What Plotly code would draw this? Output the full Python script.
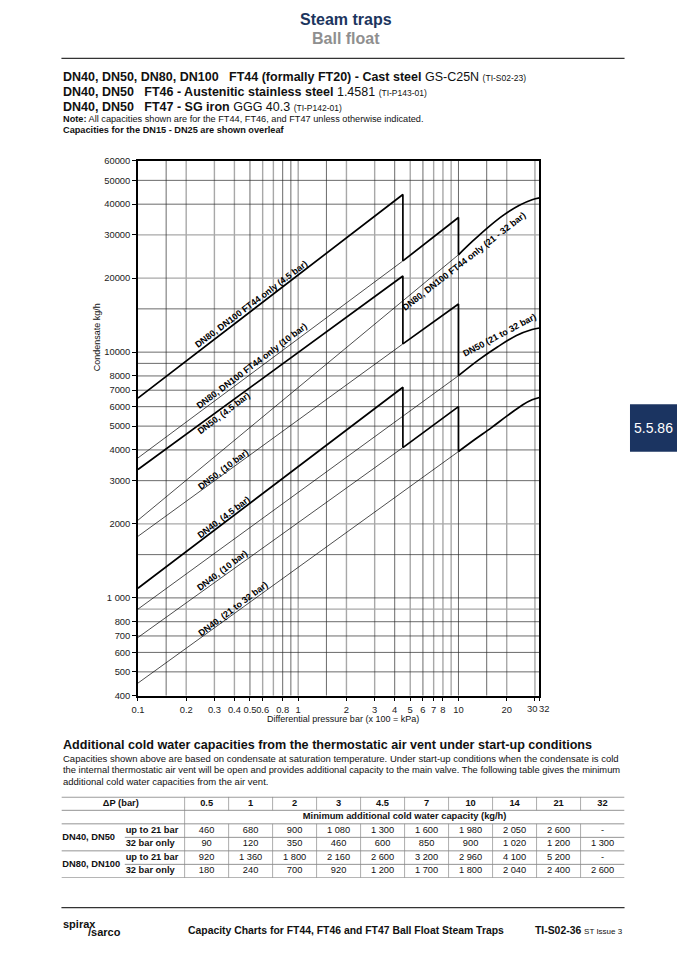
import numpy as np
import plotly.graph_objects as go

W, H = 677, 958

# ---- capacity chart (x = differential pressure bar, y = condensate kg/h) ----
# every orifice: thin extension line up to where it takes over, then the thick capacity section
dn80_45_x = [0.1, 4.5, 4.5]
dn80_45_y = [6500, 43800, 23500]
dn80_10_ext_x = [0.1, 4.5]
dn80_10_ext_y = [3710, 23500]
dn80_10_x = [4.5, 10, 10]
dn80_10_y = [23500, 35300, 24900]
dn80_32_ext_x = [0.1, 10]
dn80_32_ext_y = [2070, 24900]
dn80_32_x = [10, 12.2, 15.3, 19.1, 24, 28.8, 32]
dn80_32_y = [24900, 28200, 32200, 36100, 39600, 41700, 42400]

dn50_45_x = [0.1, 4.5, 4.5]
dn50_45_y = [3330, 20400, 10800]
dn50_10_ext_x = [0.1, 4.5]
dn50_10_ext_y = [1780, 10800]
dn50_10_x = [4.5, 10, 10]
dn50_10_y = [10800, 15700, 8020]
dn50_32_ext_x = [0.1, 10]
dn50_32_ext_y = [900, 8020]
dn50_32_x = [10, 13.3, 17.5, 23, 28.8, 32]
dn50_32_y = [8020, 9280, 10490, 11690, 12360, 12540]

dn40_45_x = [0.1, 4.5, 4.5]
dn40_45_y = [1095, 7200, 4090]
dn40_10_ext_x = [0.1, 4.5]
dn40_10_ext_y = [690, 4090]
dn40_10_x = [4.5, 10, 10]
dn40_10_y = [4090, 6000, 3940]
dn40_32_ext_x = [0.1, 10]
dn40_32_ext_y = [450, 3940]
dn40_32_x = [10, 12.7, 16, 20, 25.2, 28.8, 32]
dn40_32_y = [3940, 4420, 4920, 5490, 6110, 6400, 6540]

x_ticks = [0.1, 0.2, 0.3, 0.4, 0.5, 0.6, 0.8, 1, 2, 3, 4, 5, 6, 7, 8, 10, 20, 30, 32]
y_ticks = [400, 500, 600, 700, 800, 1000, 2000, 3000, 4000, 5000, 6000, 7000, 8000,
           10000, 20000, 30000, 40000, 50000, 60000]
y_ticktext = ["1 000" if v == 1000 else str(v) for v in y_ticks]
# 30 and 32 sit almost on top of each other: they get their own labels, pushed apart
x_ticktext = [str(v) if v < 30 else "" for v in x_ticks]

x_grid_grey = [0.2, 0.3, 0.4, 0.6, 0.7, 1, 2, 3, 5, 7, 8, 9, 20, 30]
x_grid_dark = [0.15, 0.5, 0.8, 0.9, 1.5, 4, 6, 10, 15]
y_grid_grey = [900, 2000, 20000, 30000]
y_grid_dark = [500, 600, 700, 800, 1000, 1500, 3000, 4000, 5000, 6000, 7000, 8000, 9000,
               10000, 15000, 40000, 50000]

# ---- cold water table ----
dp_cols = ["0.5", "1", "2", "3", "4.5", "7", "10", "14", "21", "32"]
dn40_50_up21 = [460, 680, 900, 1080, 1300, 1600, 1980, 2050, 2600, None]
dn40_50_32 = [90, 120, 350, 460, 600, 850, 900, 1020, 1200, 1300]
dn80_100_up21 = [920, 1360, 1800, 2160, 2600, 3200, 2960, 4100, 5200, None]
dn80_100_32 = [180, 240, 700, 920, 1200, 1700, 1800, 2040, 2400, 2600]


def px(x):
    return x / W


def py(y):
    return 1 - y / H


def fmt(v):
    return "-" if v is None else f"{v:,}".replace(",", " ")


FONT = "Liberation Sans, Arial, sans-serif"
fig = go.Figure()

# grid lines
def grid_v(vals):
    xs, ys = [], []
    for v in vals:
        xs += [v, v, None]
        ys += [400, 60000, None]
    return xs, ys


def grid_h(vals):
    xs, ys = [], []
    for v in vals:
        xs += [0.1, 32, None]
        ys += [v, v, None]
    return xs, ys


for vals, fn, col, wd in [(x_grid_grey, grid_v, "#a8a8a8", 1.4), (y_grid_grey, grid_h, "#a8a8a8", 1.4),
                          (x_grid_dark, grid_v, "#2b2b2b", 0.7), (y_grid_dark, grid_h, "#2b2b2b", 0.7)]:
    gx, gy = fn(vals)
    fig.add_trace(go.Scatter(x=gx, y=gy, mode="lines", line=dict(color=col, width=wd),
                             hoverinfo="skip", showlegend=False))

thin = [(dn80_10_ext_x, dn80_10_ext_y), (dn80_32_ext_x, dn80_32_ext_y),
        (dn50_10_ext_x, dn50_10_ext_y), (dn50_32_ext_x, dn50_32_ext_y),
        (dn40_10_ext_x, dn40_10_ext_y), (dn40_32_ext_x, dn40_32_ext_y)]
for xs, ys in thin:
    fig.add_trace(go.Scatter(x=xs, y=ys, mode="lines", line=dict(color="black", width=0.7),
                             hoverinfo="skip", showlegend=False))

thick = [(dn80_45_x, dn80_45_y, "linear"), (dn80_10_x, dn80_10_y, "linear"), (dn80_32_x, dn80_32_y, "spline"),
         (dn50_45_x, dn50_45_y, "linear"), (dn50_10_x, dn50_10_y, "linear"), (dn50_32_x, dn50_32_y, "spline"),
         (dn40_45_x, dn40_45_y, "linear"), (dn40_10_x, dn40_10_y, "linear"), (dn40_32_x, dn40_32_y, "spline")]
for xs, ys, shp in thick:
    fig.add_trace(go.Scatter(x=xs, y=ys, mode="lines", line=dict(color="black", width=1.7, shape=shp),
                             hoverinfo="skip", showlegend=False))

annotations = []
axis_font = dict(size=9.4, color="#222", family=FONT)
for v, shift in [(30, -3), (32, 5)]:
    annotations.append(dict(x=np.log10(v), y=0, xref="x", yref="y domain", text=str(v), showarrow=False,
                            yanchor="top", yshift=-5, xshift=shift, font=axis_font))

# label anchors (bar, kg/h) placed just beside the line each one names
curve_labels = [
    ("DN80, DN100 FT44 only (4.5 bar)", 0.51, 15730, -37),
    ("DN80, DN100 FT44 only (10 bar)", 0.512, 8780, -37),
    ("DN50, (4.5 bar)", 0.344, 5670, -37),
    ("DN50, (10 bar)", 0.344, 3340, -37),
    ("DN40, (4.5 bar)", 0.344, 2140, -37),
    ("DN40, (10 bar)", 0.339, 1296, -37),
    ("DN40, (21 to 32 bar)", 0.391, 902, -37),
    ("DN80, DN100 FT44 only (21 - 32 bar)", 10.9, 23500, -38),
    ("DN50 (21 to 32 bar)", 18.1, 11700, -28),
]
for txt, lx, ly, ang in curve_labels:
    annotations.append(dict(x=np.log10(lx), y=np.log10(ly), xref="x", yref="y", text=f"<b>{txt}</b>",
                            textangle=ang, showarrow=False, font=dict(size=9, color="black")))


def note(x, y, text, size, anchor="left", color="#111", vanchor="middle", angle=0):
    annotations.append(dict(x=px(x), y=py(y), xref="paper", yref="paper", text=text, showarrow=False,
                            xanchor=anchor, yanchor=vanchor, textangle=angle,
                            font=dict(size=size, color=color, family=FONT)))


note(343, 14, "<b>Steam traps</b>", 16, "center", "#1c355e")
note(343, 33, "<b>Ball float</b>", 16, "center", "#8f8f8f")
note(55, 72, "<b>DN40, DN50, DN80, DN100\u00a0\u00a0\u00a0FT44 (formally FT20) - Cast steel</b> GS-C25N "
     "<span style='font-size:8.5px'>(TI-S02-23)</span>", 12.5)
note(55, 87.5, "<b>DN40, DN50\u00a0\u00a0\u00a0FT46 - Austenitic stainless steel</b> 1.4581 "
     "<span style='font-size:8.5px'>(TI-P143-01)</span>", 12.5)
note(55, 102.5, "<b>DN40, DN50\u00a0\u00a0\u00a0FT47 - SG iron</b> GGG 40.3 "
     "<span style='font-size:8.5px'>(TI-P142-01)</span>", 12.5)
note(55, 114, "<b>Note:</b> All capacities shown are for the FT44, FT46, and FT47 unless otherwise indicated.", 9.2)
note(55, 125.5, "<b>Capacities for the DN15 - DN25 are shown overleaf</b>", 9.2)

note(91, 335, "Condensate kg/h", 9, "center", angle=-90)
note(340, 721, "Differential pressure bar (x 100 = kPa)", 9, "center")

note(55, 748, "<b>Additional cold water capacities from the thermostatic air vent under start-up conditions</b>", 12.6)
note(55, 761, "Capacities shown above are based on condensate at saturation temperature. Under start-up conditions "
     "when the condensate is cold", 9.5)
note(55, 773, "the internal thermostatic air vent will be open and provides additional capacity to the main valve. "
     "The following table gives the minimum", 9.35)
note(55, 784.5, "additional cold water capacities from the air vent.", 9.5)

note(55, 929, "<b>spirax</b>", 11)
note(80, 937, "<b>/sarco</b>", 11)
note(343, 935, "<b>Capacity Charts for FT44, FT46 and FT47 Ball Float Steam Traps</b>", 10.4, "center")
note(624, 935, "<b>TI-S02-36</b> <span style='font-size:8px'>ST Issue 3</span>", 10.4, "right")

note(653.5, 427, "5.5.86", 14, "center", "white")

shapes = [
    dict(type="line", xref="paper", yref="paper", x0=px(55), x1=px(624), y0=py(53), y1=py(53),
         line=dict(color="#333", width=1.2)),
    dict(type="line", xref="paper", yref="paper", x0=px(55), x1=px(624), y0=py(912), y1=py(912),
         line=dict(color="#333", width=1.2)),
    dict(type="rect", xref="paper", yref="paper", x0=px(629.5), x1=1, y0=py(451), y1=py(403),
         fillcolor="#1b3461", line=dict(width=0)),
]

# ---- table on its own hidden axes: columns 0..10 for the pressures, label area to the left ----
left = -2.8
sub = -1.36
grey = dict(color="#9c9c9c", width=1.8)
rule = dict(color="#666", width=0.7)
vline = dict(color="#8a8a8a", width=0.7)
for yv, x0, ln in [(0, left, grey), (1, left, rule), (2, left, rule), (3, sub, rule), (4, left, rule),
                   (5, sub, rule), (6, left, grey)]:
    shapes.append(dict(type="line", xref="x2", yref="y2", x0=x0, x1=10, y0=yv, y1=yv, line=ln))
shapes.append(dict(type="line", xref="x2", yref="y2", x0=0, x1=0, y0=0, y1=6, line=vline))
for k in range(1, 10):
    shapes.append(dict(type="line", xref="x2", yref="y2", x0=k, x1=k, y0=0, y1=1, line=vline))
    shapes.append(dict(type="line", xref="x2", yref="y2", x0=k, x1=k, y0=2, y1=6, line=vline))

centers = [k + 0.5 for k in range(10)]
tfont = dict(size=9.3, color="#111", family=FONT)


def ttext(xs, ys, texts, pos="middle center"):
    fig.add_trace(go.Scatter(x=xs, y=ys, text=texts, mode="text", textposition=pos, textfont=tfont,
                             xaxis="x2", yaxis="y2", hoverinfo="skip", showlegend=False, cliponaxis=False))


ttext(centers, [0.5] * 10, [f"<b>{c}</b>" for c in dp_cols])
ttext([-1.45], [0.5], ["<b>ΔP (bar)</b>"])
ttext([5], [1.5], ["<b>Minimum additional cold water capacity (kg/h)</b>"])
for row, vals in enumerate([dn40_50_up21, dn40_50_32, dn80_100_up21, dn80_100_32]):
    ttext(centers, [2.5 + row] * 10, [fmt(v) for v in vals])
ttext([left + 0.02, left + 0.02], [3, 5], ["<b>DN40, DN50</b>", "<b>DN80, DN100</b>"], "middle right")
ttext([sub + 0.02] * 4, [2.5, 3.5, 4.5, 5.5],
      ["<b>up to 21 bar</b>", "<b>32 bar only</b>", "<b>up to 21 bar</b>", "<b>32 bar only</b>"], "middle right")

fig.update_layout(
    width=W, height=H, autosize=False,
    margin=dict(l=0, r=0, t=0, b=0),
    paper_bgcolor="white", plot_bgcolor="white",
    font=dict(family=FONT, color="#111"),
    showlegend=False,
    xaxis=dict(type="log", range=[-1, np.log10(32)], domain=[px(132.3), px(538)],
               tickvals=x_ticks, ticktext=x_ticktext, tickfont=axis_font, tickangle=0,
               showgrid=False, zeroline=False, showline=True, linecolor="black", linewidth=1.5,
               mirror=True, ticks="outside", ticklen=4, tickcolor="black", tickwidth=1),
    yaxis=dict(type="log", range=[np.log10(400), np.log10(60000)], domain=[py(697.7), py(156.7)],
               tickvals=y_ticks, ticktext=y_ticktext, tickfont=axis_font,
               showgrid=False, zeroline=False, showline=True, linecolor="black", linewidth=1.5,
               mirror=True, ticks="outside", ticklen=4, tickcolor="black", tickwidth=1),
    xaxis2=dict(range=[left, 10], domain=[px(55), px(624)], visible=False, anchor="y2", fixedrange=True),
    yaxis2=dict(range=[6, 0], domain=[py(882), py(800)], visible=False, anchor="x2", fixedrange=True),
    annotations=annotations,
    shapes=shapes,
)

fig.write_html("out.html", config={"displayModeBar": False},
               post_script="document.body.style.margin='0';document.body.style.overflow='hidden';")
